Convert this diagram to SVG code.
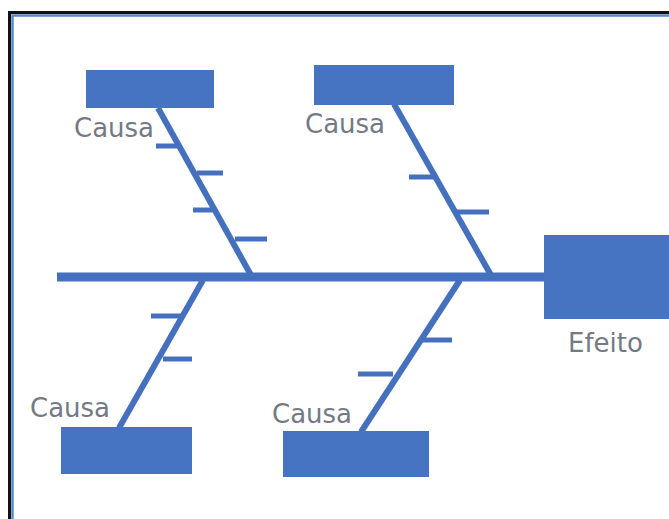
<svg xmlns="http://www.w3.org/2000/svg" width="669" height="519" viewBox="0 0 669 519">
<style>
.box{fill:#4674c2}
.bone{stroke:#4470bd;stroke-width:6;fill:none}
.tick{stroke:#4470bd;stroke-width:5;fill:none}
.lbl{font-family:"DejaVu Sans",sans-serif;font-size:26px;fill:#737a84}
</style>
<rect width="669" height="519" fill="#ffffff"/>
<g id="frame">
<path d="M9.5 519 V12.5 H669" stroke="#111111" stroke-width="3" fill="none"/>
<path d="M12.5 519 V15.5 H669" stroke="#5b86c8" stroke-width="2.5" fill="none"/>
</g>
<g id="connectors">
<line class="bone" x1="57" y1="277" x2="546" y2="277" style="stroke-width:9"/>
<line class="bone" x1="158" y1="108" x2="252" y2="277"/>
<line class="tick" x1="156" y1="146" x2="178" y2="146"/>
<line class="tick" x1="197" y1="173" x2="223" y2="173"/>
<line class="tick" x1="193" y1="210" x2="216" y2="210"/>
<line class="tick" x1="235" y1="239" x2="267" y2="239"/>
<line class="bone" x1="394" y1="104" x2="492" y2="277"/>
<line class="tick" x1="409" y1="177" x2="437" y2="177"/>
<line class="tick" x1="457" y1="212" x2="489" y2="212"/>
<line class="bone" x1="203" y1="280" x2="119" y2="428"/>
<line class="tick" x1="151" y1="316" x2="181" y2="316"/>
<line class="tick" x1="163" y1="359" x2="192" y2="359"/>
<line class="bone" x1="460" y1="280" x2="361" y2="432"/>
<line class="tick" x1="423" y1="340" x2="452" y2="340"/>
<line class="tick" x1="358" y1="374" x2="393" y2="374"/>
</g>
<g id="cause-top-left">
<rect class="box" x="86" y="70" width="128" height="38"/>
<text class="lbl" x="74" y="137">Causa</text>
</g>
<g id="cause-top-middle">
<rect class="box" x="314" y="65" width="140" height="40"/>
<text class="lbl" x="305" y="133">Causa</text>
</g>
<g id="cause-bottom-left">
<rect class="box" x="61" y="427" width="131" height="47"/>
<text class="lbl" x="30" y="417">Causa</text>
</g>
<g id="cause-bottom-middle">
<rect class="box" x="283" y="431" width="146" height="46"/>
<text class="lbl" x="272" y="423">Causa</text>
</g>
<g id="effect">
<rect class="box" x="544" y="235" width="130" height="84"/>
<text class="lbl" x="568" y="352">Efeito</text>
</g>
</svg>
